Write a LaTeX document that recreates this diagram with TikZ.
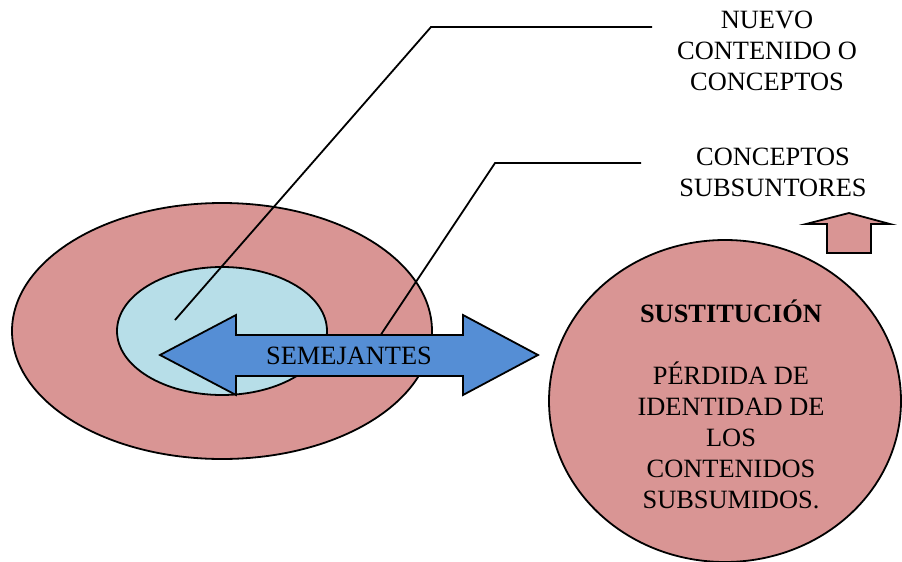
\documentclass[tikz,border=0pt]{standalone}
\usepackage{fontspec}
\setmainfont{Liberation Serif}
\usetikzlibrary{shapes.geometric}
\definecolor{rose}{HTML}{D99594}
\definecolor{paleblue}{HTML}{B7DEE8}
\definecolor{arrowblue}{HTML}{558ED5}
\begin{document}
\begin{tikzpicture}[x=1pt,y=-1pt,line join=miter,
  outline/.style={draw=black,line width=1.8pt},
  blob/.style={outline,ellipse,inner sep=0pt},
  leader/.style={draw=black,line width=1.8pt},
  label/.style={font=\fontsize{26.4}{31}\selectfont,align=center,inner sep=0pt}]
\useasboundingbox (0,0) rectangle (902,562);

% nested ellipses on the left
\node[blob,fill=rose,minimum width=420pt,minimum height=256pt] (outer) at (222,331) {};
\node[blob,fill=paleblue,minimum width=210pt,minimum height=128pt] (inner) at (222,331) {};

% leader lines from the labels into the ellipses
\coordinate (newend) at (175,320);
\coordinate (newbend) at (431,27);
\coordinate (newtail) at (652,27);
\coordinate (subend) at (380,336);
\coordinate (subbend) at (495,163);
\coordinate (subtail) at (641,163);
\draw[leader] (newend) -- (newbend) -- (newtail);
\draw[leader] (subend) -- (subbend) -- (subtail);

% double-headed arrow
\path[outline,fill=arrowblue] (160,355) -- (236,315) -- (236,335) -- (463,335) -- (463,315)
  -- (538,355) -- (463,395) -- (463,376) -- (236,376) -- (236,395) -- cycle;
\node[label] (sem) at (349,356) {SEMEJANTES};

% right ellipse
\node[blob,fill=rose,minimum width=352pt,minimum height=322pt] (right) at (725,401) {};
\node[label] (sust) at (731,404) {\textbf{SUSTITUCIÓN}\\[31pt]PÉRDIDA DE\\IDENTIDAD DE\\LOS\\CONTENIDOS\\SUBSUMIDOS.};

% upward arrow
\path[outline,fill=rose] (849,213) -- (890,224) -- (871,224) -- (871,253) -- (827,253)
  -- (827,224) -- (806,224) -- cycle;

% labels
\node[label] (nuevo) at (767,51) {NUEVO\\CONTENIDO O\\CONCEPTOS};
\node[label] (subs) at (773,172) {CONCEPTOS\\SUBSUNTORES};
\end{tikzpicture}
\end{document}
